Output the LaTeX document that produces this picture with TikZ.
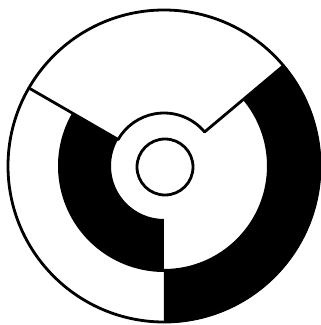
\documentclass[tikz,border=0pt]{standalone}
\begin{document}
\begin{tikzpicture}[x=1pt,y=1pt,
  edge/.style={line width=2.8pt, line cap=round, line join=round},
  ink/.style={fill=black}]
\useasboundingbox (0,0) rectangle (321,325);
\fill[white] (0,0) rectangle (321,325);
\begin{scope}[shift={(164,159)}]
  % left black band (inner ring)
  \fill[ink] (150:53) -- (150:106) arc[start angle=150, end angle=270, radius=106]
    -- (270:53) arc[start angle=270, end angle=150, radius=53] -- cycle;
  % right black band (outer ring)
  \fill[ink] (40:103) -- (40:157) arc[start angle=40, end angle=-90, radius=157]
    -- (-90:103) arc[start angle=-90, end angle=40, radius=103] -- cycle;
  % outer circle
  \draw[edge] (0,0) circle[radius=156];
  % radial dividers
  \draw[edge] (150:53) -- (150:156);
  \draw[edge] (40:53) -- (40:156);
  % arc of the middle circle in the white sector
  \draw[edge] (40:53) arc[start angle=40, end angle=150, radius=53];
  % small central circle
  \draw[edge] (1,-1) circle[radius=28];
\end{scope}
\end{tikzpicture}
\end{document}
